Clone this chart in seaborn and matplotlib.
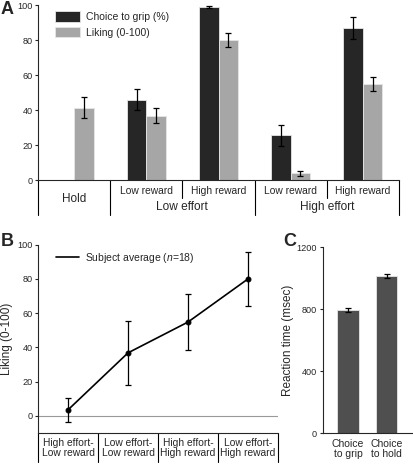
import matplotlib
matplotlib.use("Agg")
import matplotlib.pyplot as plt
import seaborn as sns
import pandas as pd
import numpy as np

# ---- data -------------------------------------------------------------
a_conditions = ["Hold", "LE-LR", "LE-HR", "HE-LR", "HE-HR"]
a_choice = [np.nan, 45.8, 98.7, 25.5, 87.0]
a_choice_err = [np.nan, 6.0, 0.5, 6.2, 6.2]
a_liking = [41.4, 36.7, 80.0, 3.8, 54.8]
a_liking_err = [6.2, 4.2, 3.8, 1.4, 3.9]
a_reward_labels = ["Low reward", "High reward", "Low reward", "High reward"]
a_effort_labels = ["Low effort", "High effort"]
a_series = ["Choice to grip (%)", "Liking (0-100)"]

b_labels = ["High effort-\nLow reward", "Low effort-\nLow reward",
            "High effort-\nHigh reward", "Low effort-\nHigh reward"]
b_liking = [3.5, 36.8, 54.8, 80.0]
b_err = [7.0, 18.5, 16.5, 16.0]

c_labels = ["Choice\nto grip", "Choice\nto hold"]
c_rt = [795, 1015]
c_err = [12, 10]

DARK = "#262626"
GREY = "#a6a6a6"
CBAR = "#4f4f4f"

sns.set_style("ticks")
plt.rcParams['font.family'] = ['Liberation Sans', 'DejaVu Sans']
plt.rcParams['mathtext.fontset'] = 'custom'
plt.rcParams['mathtext.it'] = 'Liberation Sans:italic'
plt.rcParams['mathtext.rm'] = 'Liberation Sans'
plt.rcParams['axes.linewidth'] = 0.8
plt.rcParams['xtick.major.width'] = 0.8
plt.rcParams['ytick.major.width'] = 0.8
plt.rcParams['ytick.major.size'] = 2.5
plt.rcParams['ytick.major.pad'] = 1.5
plt.rcParams['ytick.labelsize'] = 6.6
plt.rcParams['xtick.labelsize'] = 7.5

fig = plt.figure(figsize=(4.14, 4.69), dpi=100)

# ---- panel A ----------------------------------------------------------
axA = fig.add_axes([0.0918, 0.6162, 0.872, 0.3731])
df_a = pd.DataFrame({
    "cond": a_conditions * 2,
    "measure": [a_series[0]] * 5 + [a_series[1]] * 5,
    "value": a_choice + a_liking,
})
sns.barplot(data=df_a, x="cond", y="value", hue="measure", order=a_conditions,
            hue_order=a_series, palette=[DARK, GREY], width=0.54, errorbar=None,
            edgecolor="#e6e6e6", linewidth=0.6, ax=axA)
xs = np.arange(len(a_conditions))
axA.errorbar(xs - 0.135, a_choice, yerr=a_choice_err, fmt='none', ecolor='black',
             elinewidth=0.9, capsize=2.5, capthick=0.9)
axA.errorbar(xs + 0.135, a_liking, yerr=a_liking_err, fmt='none', ecolor='black',
             elinewidth=0.9, capsize=2.5, capthick=0.9)
axA.set_xlim(-0.5, 4.5)
axA.set_ylim(0, 100)
axA.set_yticks(range(0, 101, 20))
axA.set_xticks([])
axA.set_xlabel("")
axA.set_ylabel("")
sns.despine(ax=axA)
h, l = axA.get_legend_handles_labels()
axA.legend(h, l, loc='upper left', bbox_to_anchor=(0.03, 1.0), frameon=False,
           fontsize=7.5, handlelength=2.4, handleheight=1.2, labelspacing=0.45,
           handletextpad=0.55, borderaxespad=0.2)

tr = axA.get_xaxis_transform()
for x in [-0.5, 0.5, 2.5, 4.5]:
    axA.plot([x, x], [0, -0.2], color='black', lw=0.8, transform=tr, clip_on=False)
for x in [1.5, 3.5]:
    axA.plot([x, x], [0, -0.103], color='black', lw=0.8, transform=tr, clip_on=False)
axA.text(0, -0.11, "Hold", transform=tr, ha='center', va='center', fontsize=8.5)
for x, lab in zip([1, 2, 3, 4], a_reward_labels):
    axA.text(x, -0.065, lab, transform=tr, ha='center', va='center', fontsize=7.4)
for x, lab in zip([1.5, 3.5], a_effort_labels):
    axA.text(x, -0.155, lab, transform=tr, ha='center', va='center', fontsize=8.6)

# ---- panel B ----------------------------------------------------------
axB = fig.add_axes([0.0918, 0.0768, 0.5797, 0.4015])
bx = np.arange(len(b_labels))
axB.axhline(0, color='#9a9a9a', lw=0.8)
sns.lineplot(x=bx, y=b_liking, color='black', marker='o', markersize=3.5,
             markeredgecolor='black', linewidth=1.2,
             label="Subject average ($n$=18)", ax=axB)
axB.errorbar(bx, b_liking, yerr=b_err, fmt='none', ecolor='black',
             elinewidth=0.9, capsize=2.5, capthick=0.9)
axB.set_xlim(-0.5, 3.5)
axB.set_ylim(-10, 100)
axB.set_yticks(range(0, 101, 20))
axB.set_xticks([])
axB.set_ylabel("Liking (0-100)", fontsize=8.5, labelpad=3)
sns.despine(ax=axB)
leg = axB.legend(loc='upper left', bbox_to_anchor=(0.05, 1.0), frameon=False,
                 fontsize=7.5, handlelength=2.2, handletextpad=0.6, borderaxespad=0.2)
for hd in leg.legend_handles:
    hd.set_marker('')
trB = axB.get_xaxis_transform()
for x in [-0.5, 0.5, 1.5, 2.5, 3.5]:
    axB.plot([x, x], [0, -0.155], color='black', lw=0.8, transform=trB, clip_on=False)
for x, lab in zip(bx, b_labels):
    axB.text(x, -0.078, lab, transform=trB, ha='center', va='center',
             fontsize=7.4, linespacing=1.0)

# ---- panel C ----------------------------------------------------------
axC = fig.add_axes([0.7795, 0.0761, 0.2186, 0.3966])
sns.barplot(x=c_labels, y=c_rt, color=CBAR, width=0.56, errorbar=None,
            edgecolor="#e6e6e6", linewidth=0.6, ax=axC)
axC.errorbar([0, 1], c_rt, yerr=c_err, fmt='none', ecolor='black',
             elinewidth=0.9, capsize=2, capthick=0.9)
axC.set_xlim(-0.66, 1.69)
axC.set_ylim(0, 1200)
axC.set_yticks([0, 400, 800, 1200])
axC.tick_params(axis='x', length=0, pad=4)
for t in axC.get_xticklabels():
    t.set_linespacing(1.0)
axC.set_ylabel("Reaction time (msec)", fontsize=8.5, labelpad=2)
sns.despine(ax=axC)

# ---- panel letters ----------------------------------------------------
fig.text(0.002, 0.997, "A", fontsize=13, fontweight='bold', va='top', ha='left')
fig.text(0.002, 0.503, "B", fontsize=13, fontweight='bold', va='top', ha='left')
fig.text(0.683, 0.503, "C", fontsize=13, fontweight='bold', va='top', ha='left')

fig.savefig("out.png", dpi=100)
